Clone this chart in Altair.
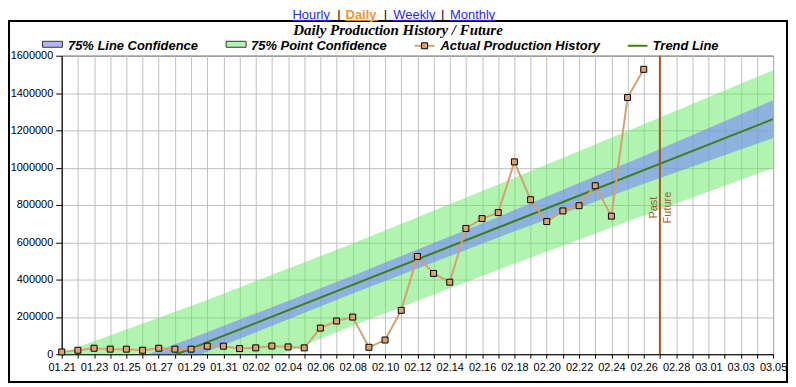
import json
import altair as alt
import pandas as pd

# ---------------- data ----------------
days = ["01.21", "01.22", "01.23", "01.24", "01.25", "01.26", "01.27", "01.28", "01.29", "01.30", "01.31",
        "02.01", "02.02", "02.03", "02.04", "02.05", "02.06", "02.07", "02.08", "02.09", "02.10",
        "02.11", "02.12", "02.13", "02.14", "02.15", "02.16", "02.17", "02.18", "02.19", "02.20",
        "02.21", "02.22", "02.23", "02.24", "02.25", "02.26", "02.27", "02.28", "02.29",
        "03.01", "03.02", "03.03", "03.04", "03.05"]

actual = [12000, 21000, 32000, 27000, 27000, 21000, 32000, 27000, 27000, 43000, 43000,
          30000, 34000, 44000, 39000, 34000, 140000, 178000, 199000, 37000, 76000,
          235000, 524000, 433000, 386000, 674000, 727000, 759000, 1031000, 828000, 711000,
          768000, 796000, 903000, 740000, 1376000, 1527000]

band_days = ["01.21", "01.30", "02.08", "02.17", "02.26", "03.05"]
line_lo = [-313000, 13000, 325000, 626000, 913000, 1159000]
line_hi = [-173000, 117000, 421000, 736000, 1063000, 1361000]
point_lo = [-493000, -161000, 153000, 453000, 743000, 998000]
point_hi = [7000, 291000, 593000, 909000, 1233000, 1522000]

trend_days = ["01.21", "03.05"]
trend_vals = [-243000, 1260000]

divider_day = "02.27"
divider_label_value = 786000
y_ticks = [0, 200000, 400000, 600000, 800000, 1000000, 1200000, 1400000, 1600000]

title_text = "Daily Production History / Future"
links = ["Hourly", "Daily", "Weekly", "Monthly"]
legend_labels = ["75% Line Confidence", "75% Point Confidence", "Actual Production History", "Trend Line"]

# ---------------- tables ----------------
pos = {d: i for i, d in enumerate(days)}
actual_df = pd.DataFrame({"idx": [pos[d] for d in days[:len(actual)]], "value": actual})
band_df = pd.DataFrame({"idx": [pos[d] for d in band_days],
                        "line_lo": line_lo, "line_hi": line_hi,
                        "point_lo": point_lo, "point_hi": point_hi})
trend_df = pd.DataFrame({"idx": [pos[d] for d in trend_days], "value": trend_vals})

SANS = "Liberation Sans, Arial, Helvetica, sans-serif"
SERIF = "Liberation Serif, Times New Roman, serif"

GREEN_BAND = "#62ea62"
BLUE_BAND = "#7486fc"
ACTUAL_LINE = "#d6a070"
ACTUAL_FILL = "#dba36f"
TREND = "#3f7f0f"
DIVIDER = "#a5561f"

label_expr = "datum.value % 2 == 0 ? " + json.dumps(days) + "[datum.value] : ''"

XSCALE = alt.Scale(domain=[0, len(days) - 1], nice=False, zero=False)
X = alt.X("idx:Q", scale=XSCALE,
          axis=alt.Axis(values=list(range(len(days))), tickCount=200, labelExpr=label_expr, title=None,
                        grid=True, labelFlush=False, labelOverlap=False, tickSize=4,
                        labelPadding=3))
YSCALE = alt.Scale(domain=[0, 1600000], nice=False, zero=False)
YAXIS = alt.Axis(values=y_ticks, tickCount=100, format="d", title=None, grid=True, labelFlush=False,
                 labelOverlap=False, tickSize=6, labelPadding=3)

green = alt.Chart(band_df).mark_area(color=GREEN_BAND, opacity=0.5, clip=True).encode(
    x=X, y=alt.Y("point_lo:Q", scale=YSCALE, axis=YAXIS), y2="point_hi:Q")
blue = alt.Chart(band_df).mark_area(color=BLUE_BAND, opacity=0.6, clip=True).encode(
    x=X, y=alt.Y("line_lo:Q", scale=YSCALE, axis=YAXIS), y2="line_hi:Q")
trend = alt.Chart(trend_df).mark_line(color=TREND, strokeWidth=2, clip=True).encode(
    x=X, y=alt.Y("value:Q", scale=YSCALE, axis=YAXIS))
act_line = alt.Chart(actual_df).mark_line(color=ACTUAL_LINE, strokeWidth=2).encode(
    x=X, y=alt.Y("value:Q", scale=YSCALE, axis=YAXIS))
act_pts = alt.Chart(actual_df).mark_square(size=36, fill=ACTUAL_FILL, stroke="black",
                                           strokeWidth=1, opacity=1).encode(
    x=X, y=alt.Y("value:Q", scale=YSCALE, axis=YAXIS))

one = alt.Data(values=[{}])
divider = alt.Chart(one).mark_rule(color=DIVIDER, strokeWidth=2).encode(
    x=alt.datum(pos[divider_day], type="quantitative"))
past = alt.Chart(one).mark_text(text="Past", angle=270, align="center", baseline="bottom",
                                dy=-1, font=SANS, fontSize=11, color=DIVIDER).encode(
    x=alt.datum(pos[divider_day], type="quantitative"), y=alt.datum(divider_label_value, type="quantitative"))
future = alt.Chart(one).mark_text(text="Future", angle=270, align="center", baseline="top",
                                  dy=2, font=SANS, fontSize=11, color=DIVIDER).encode(
    x=alt.datum(pos[divider_day], type="quantitative"), y=alt.datum(divider_label_value, type="quantitative"))


def txt(text, x, y, **kw):
    opts = dict(align="left", baseline="alphabetic", font=SANS, fontSize=13, color="black")
    opts.update(kw)
    return alt.Chart(one).mark_text(text=text, **opts).encode(x=alt.value(x), y=alt.value(y))


def box(x, x2, y, y2, **kw):
    return alt.Chart(one).mark_rect(**kw).encode(
        x=alt.value(x), x2=alt.value(x2), y=alt.value(y), y2=alt.value(y2))


def hline(x, x2, y, color, width):
    return alt.Chart(one).mark_rule(color=color, strokeWidth=width).encode(
        x=alt.value(x), x2=alt.value(x2), y=alt.value(y))


deco = []
# outer frame
deco.append(box(-53, 729, -35, 328, fill="transparent", stroke="black", strokeWidth=2))
# links
LINK = "#2a2ae6"
ORANGE = "#f0962e"
LY = -37.2
deco += [txt(links[0], 232, LY, color=LINK), hline(232, 271, LY + 1.7, LINK, 1),
         txt("|", 278.7, LY, align="center"),
         txt(links[1], 285.3, LY, color=ORANGE, fontWeight="bold"), hline(285, 318, LY + 1.7, ORANGE, 1),
         txt("|", 325.3, LY, align="center"),
         txt(links[2], 333.3, LY, color=LINK), hline(333, 376, LY + 1.7, LINK, 1),
         txt("|", 383, LY, align="center"),
         txt(links[3], 390.3, LY, color=LINK), hline(390, 437, LY + 1.7, LINK, 1)]
# title
deco.append(txt(title_text, 338, -21, align="center", font=SERIF, fontSize=15,
                fontWeight="bold", fontStyle="italic"))
# legend
LEG = dict(fontWeight="bold", fontStyle="italic")
deco += [box(-19.3, 0.7, -14.5, -8.5, fill="#b4b4f8", stroke="#333333", strokeWidth=1),
         txt(legend_labels[0], 6.3, -5.5, **LEG),
         box(165.3, 185.3, -14.5, -8.5, fill="#b0f4b0", stroke="#333333", strokeWidth=1),
         txt(legend_labels[1], 190.3, -5.5, **LEG),
         hline(354.7, 374.7, -10, ACTUAL_LINE, 2),
         alt.Chart(one).mark_square(size=36, fill=ACTUAL_FILL, stroke="black", strokeWidth=1,
                                    opacity=1).encode(x=alt.value(364.7), y=alt.value(-10)),
         txt(legend_labels[2], 380.7, -5.5, **LEG),
         hline(569, 588.7, -10, TREND, 2),
         txt(legend_labels[3], 594, -5.5, **LEG)]

chart = alt.layer(green, blue, trend, act_line, act_pts, divider, past, future, *deco).properties(
    width=715, height=300,
    padding={"left": 54, "top": 47, "right": 15, "bottom": 29},
    autosize=alt.AutoSizeParams(type="none"),
).configure_view(
    stroke="black", strokeWidth=1
).configure_axis(
    labelFont=SANS, labelFontSize=11, labelColor="black",
    domainColor="black", tickColor="black", gridColor="#c0c0c0", gridWidth=1
)

chart.save("out.html", embed_options={"renderer": "svg", "actions": False})
